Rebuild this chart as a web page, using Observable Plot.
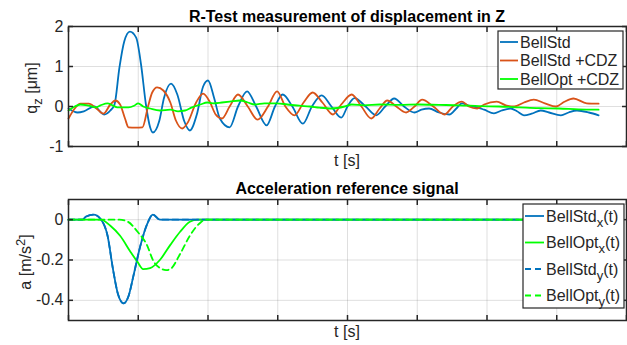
<!DOCTYPE html>
<html><head><meta charset="utf-8">
<script src="https://cdn.jsdelivr.net/npm/d3@7"></script>
<script src="https://cdn.jsdelivr.net/npm/@observablehq/plot@0.6"></script>
<style>
body{margin:0;background:#fff;}
#chart{width:627px;height:345px;position:relative;overflow:hidden;background:#fff;}
#chart svg{display:block;}
</style></head><body><div id="chart"></div>
<script>
// ---------- data ----------
const xTicks = [0, 1, 2, 3, 4, 5, 6, 7, 8];
const topYTicks = [-1, 0, 1, 2];
const botYTicks = [-0.4, -0.2, 0];

// Top panel: displacement q_z [µm] vs t
const stdT = [0.00,0.13,0.22,0.37,0.51,0.60,0.66,0.73,0.80,0.88,0.97,1.04,1.11,1.17,1.21,1.30,1.37,1.47,1.56,1.66,1.74,1.84,1.93,2.00,2.09,2.17,2.31,2.43,2.56,2.69,2.84,2.96,3.07,3.21,3.36,3.49,3.63,3.77,3.91,4.00,4.10,4.26,4.41,4.54,4.67,4.81,4.96,5.06,5.17,5.31,5.46,5.56,5.64,5.74,5.86,5.96,6.10,6.21,6.34,6.43,6.53,6.64,6.77,6.89,7.06,7.17,7.29,7.46,7.60];
const stdQ = [-0.05,-0.15,-0.12,0.0,-0.2,-0.1,0.05,0.97,1.63,1.87,1.72,1.05,0.05,-0.52,-0.65,-0.37,0.22,0.57,0.3,-0.37,-0.6,-0.2,0.5,0.65,0.2,-0.3,-0.52,0.0,0.38,0.0,-0.47,0.0,0.3,0.0,-0.43,0.0,0.28,0.0,-0.28,0.0,0.21,0.0,-0.22,0.0,0.2,0.0,-0.15,-0.08,-0.05,-0.15,-0.2,-0.05,0.08,0.02,-0.02,-0.08,-0.17,-0.1,-0.05,-0.12,-0.22,-0.18,-0.1,-0.15,-0.22,-0.15,-0.1,-0.15,-0.22];

const cdzT = [0.00,0.09,0.17,0.29,0.40,0.50,0.60,0.67,0.74,0.81,0.86,0.96,1.06,1.14,1.20,1.27,1.36,1.46,1.54,1.63,1.71,1.83,1.93,2.03,2.11,2.20,2.31,2.43,2.57,2.71,2.86,2.99,3.11,3.24,3.37,3.50,3.64,3.79,3.91,4.06,4.20,4.34,4.46,4.57,4.70,4.84,4.96,5.07,5.23,5.39,5.51,5.64,5.74,5.86,5.96,6.14,6.27,6.39,6.53,6.67,6.83,6.99,7.11,7.24,7.43,7.60];
const cdzQ = [-0.3,-0.05,0.07,0.07,-0.05,-0.18,0.05,0.15,0.05,-0.3,-0.52,-0.53,-0.52,0.0,0.35,0.48,0.4,0.1,-0.35,-0.55,-0.4,0.1,0.32,0.1,-0.2,-0.3,0.0,0.3,0.0,-0.33,0.0,0.38,0.0,-0.22,0.1,0.35,0.1,-0.2,0.05,0.3,0.0,-0.3,-0.05,0.15,0.0,-0.15,0.0,0.17,0.0,-0.2,0.0,0.12,0.0,-0.05,0.05,0.12,0.03,0.0,0.1,0.17,0.08,0.0,0.12,0.2,0.08,0.07];

const optT = [0.00,0.09,0.17,0.29,0.39,0.46,0.56,0.63,0.70,0.86,0.94,1.00,1.07,1.17,1.31,1.46,1.57,1.67,1.77,1.89,1.99,2.07,2.20,2.31,2.46,2.57,2.67,2.81,2.99,3.14,3.31,3.46,3.60,3.77,3.96,4.06,4.24,4.46,4.74,5.03,5.31,5.60,5.89,6.17,6.46,6.74,7.03,7.31,7.60];
const optQ = [-0.1,0.0,0.05,0.02,-0.02,0.03,0.08,0.03,-0.02,-0.02,0.02,0.08,0.0,-0.05,-0.1,-0.08,-0.12,-0.1,-0.02,0.05,0.1,0.08,0.1,0.12,0.15,0.1,0.05,0.08,0.08,0.05,0.02,0.0,-0.03,-0.05,0.0,0.05,0.03,0.05,0.04,0.05,0.04,0.03,0.01,0.0,-0.02,-0.04,-0.05,-0.07,-0.08];

// Bottom panel: acceleration reference a [m/s^2] vs t
const stdAccT = [0, 0.20, 0.25, 0.36, 0.46, 0.56, 0.64, 0.71, 0.79, 0.86, 0.93, 1.03, 1.13, 1.21, 1.31, 7.60];
const stdAccX = [0, 0, 0.015, 0.025, 0.003, -0.08, -0.25, -0.37, -0.415, -0.38, -0.28, -0.13, -0.02, 0.025, 0, 0];
const stdAccY = [0, 0, 0.015, 0.025, 0.003, -0.08, -0.25, -0.37, -0.415, -0.38, -0.28, -0.13, -0.02, 0.025, 0, 0];
const optAccXT = [0, 0.46, 0.60, 0.74, 0.89, 0.99, 1.07, 1.17, 1.31, 1.46, 1.60, 1.74, 1.85, 7.60];
const optAccX = [0, 0, -0.03, -0.08, -0.16, -0.21, -0.245, -0.24, -0.2, -0.125, -0.06, -0.01, 0, 0];
const optAccYT = [0, 0.73, 0.85, 0.99, 1.13, 1.21, 1.31, 1.40, 1.46, 1.60, 1.74, 1.89, 1.97, 7.60];
const optAccY = [0, 0, -0.01, -0.06, -0.13, -0.2, -0.24, -0.25, -0.245, -0.17, -0.08, -0.015, 0, 0];

const topLegend = ["BellStd", "BellStd +CDZ", "BellOpt +CDZ"];
const botLegend = [["BellStd", "x"], ["BellOpt", "x"], ["BellStd", "y"], ["BellOpt", "y"]];

// ---------- styling ----------
const FONT = "'Liberation Sans', Arial, Helvetica, sans-serif";
const INK = "#262626";
const BLUE = "#0072BD", ORANGE = "#D95319", GREEN = "#00FF00";
const rows = (T, V) => T.map((t, i) => ({t, v: V[i]}));

function gridMarks(yTicks) {
  return [
    Plot.gridX(xTicks, {stroke: INK, strokeOpacity: 0.15, strokeWidth: 1}),
    Plot.gridY(yTicks, {stroke: INK, strokeOpacity: 0.15, strokeWidth: 1})
  ];
}
function boxMarks(yTicks) {
  // inward ticks: normal outward ticks shifted back inside the frame
  const tick = {tickFormat: () => "", label: null, tickSize: 5, tickPadding: 0, stroke: INK, strokeWidth: 1.5};
  return [
    Plot.axisY(yTicks, {anchor: "left", tickSize: 0, tickPadding: 5, tickFormat: d => String(d), label: null, fontSize: 16, fill: INK}),
    Plot.axisY(yTicks, {anchor: "left", dx: 5, ...tick}),
    Plot.axisY(yTicks, {anchor: "right", dx: -5, ...tick}),
    Plot.axisX(xTicks, {anchor: "bottom", dy: -5, ...tick}),
    Plot.axisX(xTicks, {anchor: "top", dy: 5, ...tick}),
    Plot.frame({stroke: INK, strokeWidth: 1.5})
  ];
}
const lineOpts = (stroke, extra = {}) => ({x: "t", y: "v", stroke, strokeWidth: 1.8, curve: "monotone-x", ...extra});

const topPlot = Plot.plot({
  width: 627, height: 172,
  marginLeft: 68, marginRight: 1, marginTop: 26, marginBottom: 26,
  style: {fontFamily: FONT, fontSize: "16px", color: INK, background: "white"},
  x: {domain: [0, 8]},
  y: {domain: [-1, 2]},
  marks: [
    ...gridMarks(topYTicks),
    Plot.line(rows(stdT, stdQ), lineOpts(BLUE)),
    Plot.line(rows(cdzT, cdzQ), lineOpts(ORANGE)),
    Plot.line(rows(optT, optQ), lineOpts(GREEN)),
    ...boxMarks(topYTicks)
  ]
});

const botPlot = Plot.plot({
  width: 627, height: 173,
  marginLeft: 68, marginRight: 1, marginTop: 27, marginBottom: 25,
  style: {fontFamily: FONT, fontSize: "16px", color: INK, background: "white"},
  x: {domain: [0, 8]},
  y: {domain: [-0.5, 0.1]},
  marks: [
    ...gridMarks(botYTicks),
    Plot.line(rows(stdAccT, stdAccX), lineOpts(BLUE)),
    Plot.line(rows(optAccXT, optAccX), lineOpts(GREEN)),
    Plot.line(rows(stdAccT, stdAccY), lineOpts(BLUE, {strokeDasharray: "6,4"})),
    Plot.line(rows(optAccYT, optAccY), lineOpts(GREEN, {strokeDasharray: "6,4"})),
    ...boxMarks(botYTicks)
  ]
});

const root = document.getElementById("chart");
root.appendChild(topPlot);
root.appendChild(botPlot);

// ---------- annotations ----------
function richText(g, parts, attrs) {
  const t = g.append("text");
  Object.entries(attrs).forEach(([k, v]) => t.attr(k, v));
  let shift = 0;
  parts.forEach(p => {
    const [str, kind] = Array.isArray(p) ? p : [p, null];
    const target = kind === "sub" ? 5 : kind === "sup" ? -6 : 0;
    const ts = t.append("tspan").text(str).attr("dy", target - shift);
    if (kind) ts.attr("font-size", 13);
    shift = target;
  });
  return t;
}

function annotate(svgNode, title, ylabelParts, ylabelX, ylabelY, xlabelY) {
  const svg = d3.select(svgNode);
  const g = svg.append("g").attr("font-family", FONT);
  g.append("text").attr("x", 347).attr("y", 22).attr("text-anchor", "middle")
    .attr("font-size", 16).attr("font-weight", "bold").attr("fill", "#000").text(title);
  g.append("text").attr("x", 347).attr("y", xlabelY).attr("text-anchor", "middle")
    .attr("font-size", 16).attr("fill", INK).text("t [s]");
  richText(g, ylabelParts, {transform: `translate(${ylabelX},${ylabelY}) rotate(-90)`, "text-anchor": "middle", "font-size": 16, fill: INK});
  return g;
}

const gTop = annotate(topPlot, "R-Test measurement of displacement in Z", ["q", ["z", "sub"], " [μm]"], 37, 88, 166);
const gBot = annotate(botPlot, "Acceleration reference signal", ["a [m/s", ["2", "sup"], "]"], 31, 90, 165);

// top legend
{
  const colors = [BLUE, ORANGE, GREEN];
  const lg = gTop.append("g").attr("text-anchor", "start");
  lg.append("rect").attr("x", 498).attr("y", 31).attr("width", 125).attr("height", 58)
    .attr("fill", "white").attr("stroke", INK).attr("stroke-width", 1.2);
  topLegend.forEach((name, i) => {
    const y = 42 + i * 18.5;
    lg.append("line").attr("x1", 500).attr("x2", 518).attr("y1", y).attr("y2", y)
      .attr("stroke", colors[i]).attr("stroke-width", 1.8);
    lg.append("text").attr("x", 520).attr("y", y + 5.5).attr("text-anchor", "start")
      .attr("font-size", 16).attr("fill", INK).text(name);
  });
}
// bottom legend
{
  const colors = [BLUE, GREEN, BLUE, GREEN];
  const dashes = [null, null, "6,4", "6,4"];
  const lg = gBot.append("g").attr("text-anchor", "start");
  lg.append("rect").attr("x", 523).attr("y", 32).attr("width", 101).attr("height", 104)
    .attr("fill", "white").attr("stroke", INK).attr("stroke-width", 1.2);
  botLegend.forEach(([name, sub], i) => {
    const y = 44 + i * 26.5;
    lg.append("line").attr("x1", 525).attr("x2", 544).attr("y1", y).attr("y2", y)
      .attr("stroke", colors[i]).attr("stroke-width", 1.8).attr("stroke-dasharray", dashes[i]);
    richText(lg, [name, [sub, "sub"], "(t)"], {x: 546, y: y + 5.5, "text-anchor": "start", "font-size": 16, fill: INK});
  });
}
</script>
</body></html>
